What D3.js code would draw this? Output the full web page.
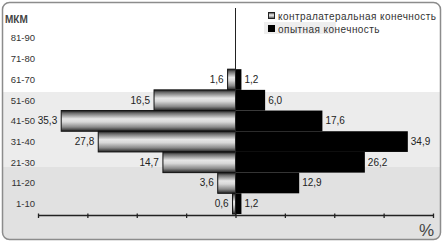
<!DOCTYPE html>
<html>
<head>
<meta charset="utf-8">
<script src="https://cdn.jsdelivr.net/npm/d3@7"></script>
<style>
  body { margin: 0; background: #fff; }
  svg { display: block; font-family: "Liberation Sans", Arial, sans-serif; }
</style>
</head>
<body>
<div id="chart"></div>
<script>
// data, top row first
const categories = ["81-90", "71-80", "61-70", "51-60", "41-50", "31-40", "21-30", "11-20", "1-10"];
const contralateral = [null, null, 1.6, 16.5, 35.3, 27.8, 14.7, 3.6, 0.6];
const experimental = [null, null, 1.2, 6.0, 17.6, 34.9, 26.2, 12.9, 1.2];
const xTicks = [-40, -30, -20, -10, 0, 10, 20, 30, 40];
const legendLabels = ["контралатеральная конечность", "опытная конечность"];

const width = 444;
const height = 244;

const svg = d3.select("#chart")
  .append("svg")
  .attr("width", width)
  .attr("height", height);

const defs = svg.append("defs");

// cylinder-like shading for the grey bars
const grad = defs.append("linearGradient")
  .attr("id", "barGrad")
  .attr("x1", 0).attr("y1", 0).attr("x2", 0).attr("y2", 1);
[[0, "#1a1a1a"], [0.12, "#6a6a6a"], [0.4, "#e6e6e6"], [0.55, "#d8d8d8"], [0.8, "#8a8a8a"], [1, "#222"]]
  .forEach(([o, c]) => grad.append("stop").attr("offset", o).attr("stop-color", c));

defs.append("clipPath").attr("id", "frameClip")
  .append("rect")
  .attr("x", 2.5).attr("y", 2.5)
  .attr("width", 438).attr("height", 237)
  .attr("rx", 7);

// background bands
const bg = svg.append("g").attr("clip-path", "url(#frameClip)");
bg.append("rect").attr("x", 0).attr("y", 0).attr("width", width).attr("height", height).attr("fill", "#fff");
bg.append("rect").attr("x", 0).attr("y", 92).attr("width", width).attr("height", 76).attr("fill", "#ececec");
bg.append("rect").attr("x", 0).attr("y", 167).attr("width", width).attr("height", 80).attr("fill", "#e1e1e1");

svg.append("rect")
  .attr("x", 2.5).attr("y", 2.5)
  .attr("width", 438).attr("height", 237)
  .attr("rx", 7)
  .attr("fill", "none")
  .attr("stroke", "#8c8c8c")
  .attr("stroke-width", 1.5);

const x = d3.scaleLinear().domain([-40, 40]).range([38, 433]);
const y = d3.scaleBand().domain(categories).range([27.8, 214]).padding(0);

const fmt = v => d3.format(".1f")(v).replace(".", ",");

const rows = categories.map((c, i) => ({ cat: c, left: contralateral[i], right: experimental[i] }));

// contralateral bars (to the left)
svg.append("g")
  .selectAll("rect")
  .data(rows.filter(d => d.left != null))
  .join("rect")
  .attr("x", d => x(-d.left))
  .attr("y", d => y(d.cat))
  .attr("width", d => x(0) - x(-d.left))
  .attr("height", y.bandwidth())
  .attr("fill", "url(#barGrad)")
  .attr("stroke", "#111")
  .attr("stroke-width", 1);

// experimental bars (to the right)
svg.append("g")
  .selectAll("rect")
  .data(rows.filter(d => d.right != null))
  .join("rect")
  .attr("x", x(0))
  .attr("y", d => y(d.cat))
  .attr("width", d => x(d.right) - x(0))
  .attr("height", y.bandwidth())
  .attr("fill", "#000");

// value labels
const labels = svg.append("g")
  .attr("font-size", 10)
  .attr("fill", "#222");

labels.selectAll("text.l")
  .data(rows.filter(d => d.left != null))
  .join("text")
  .attr("class", "l")
  .attr("x", d => x(-d.left) - 4)
  .attr("y", d => y(d.cat) + y.bandwidth() / 2)
  .attr("dy", "0.35em")
  .attr("text-anchor", "end")
  .text(d => fmt(d.left));

labels.selectAll("text.r")
  .data(rows.filter(d => d.right != null))
  .join("text")
  .attr("class", "r")
  .attr("x", d => x(d.right) + 3)
  .attr("y", d => y(d.cat) + y.bandwidth() / 2)
  .attr("dy", "0.35em")
  .text(d => fmt(d.right));

// category labels
svg.append("g")
  .attr("font-size", 9.5)
  .attr("fill", "#333")
  .attr("text-anchor", "end")
  .selectAll("text")
  .data(categories)
  .join("text")
  .attr("x", 35)
  .attr("y", d => y(d) + y.bandwidth() / 2)
  .attr("dy", "0.35em")
  .text(d => d);

svg.append("text")
  .attr("x", 5).attr("y", 23)
  .attr("font-size", 10)
  .attr("font-weight", "bold")
  .attr("fill", "#444")
  .text("МКМ");

// central vertical line
svg.append("line")
  .attr("x1", x(0)).attr("x2", x(0))
  .attr("y1", 8).attr("y2", 216)
  .attr("stroke", "#222")
  .attr("stroke-width", 1);

// bottom axis
const axis = svg.append("g")
  .attr("transform", "translate(0,215)")
  .call(d3.axisBottom(x).tickValues(xTicks).tickFormat("").tickSize(3).tickSizeOuter(0));
axis.select(".domain").attr("stroke", "#222").attr("stroke-width", 1.3);
axis.selectAll(".tick line").attr("stroke", "#222").attr("y1", -1.5).attr("stroke-width", 1.3);

svg.append("text")
  .attr("x", 434).attr("y", 236)
  .attr("text-anchor", "end")
  .attr("font-size", 17)
  .attr("fill", "#444")
  .text("%");

// legend
const legend = svg.append("g").attr("font-size", 10).attr("fill", "#333");
legend.append("rect")
  .attr("x", 264).attr("y", 22).attr("width", 72).attr("height", 12)
  .attr("fill", "#eeeeee");
legend.append("rect")
  .attr("x", 268.5).attr("y", 12.5).attr("width", 6).attr("height", 6)
  .attr("fill", "url(#barGrad)").attr("stroke", "#222");
legend.append("rect")
  .attr("x", 268).attr("y", 25).attr("width", 7).attr("height", 7)
  .attr("fill", "#000");
legend.selectAll("text")
  .data(legendLabels)
  .join("text")
  .attr("x", 278)
  .attr("y", (d, i) => 16 + i * 13)
  .attr("dy", "0.35em")
  .attr("letter-spacing", 0.45)
  .text(d => d);
</script>
</body>
</html>
